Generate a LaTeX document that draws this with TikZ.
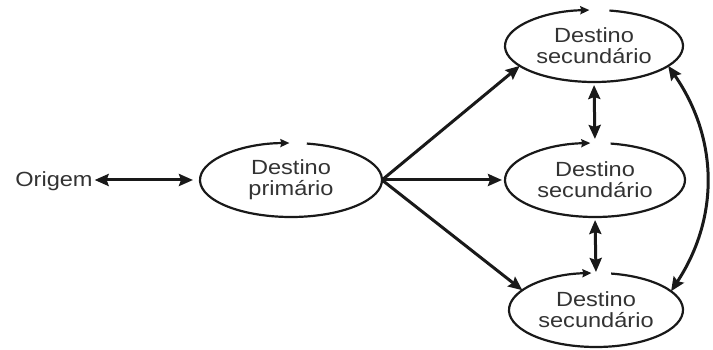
\documentclass[tikz,border=0pt]{standalone}
\usepackage{fontspec}
\setmainfont{Liberation Sans}[FakeStretch=1.15]
\usetikzlibrary{arrows.meta,shapes.geometric}
\begin{document}
\begin{tikzpicture}[x=1pt,y=1pt,
  txt/.style={text=black!80,font=\fontsize{20.5}{21}\selectfont,inner sep=0pt,outer sep=0pt},
  ell/.style={txt,ellipse,draw=none,align=center},
  conn/.style={line width=3pt,draw=black!90,-{Stealth[length=14pt,width=12pt,inset=2pt]}},
  dconn/.style={line width=3pt,draw=black!90,{Stealth[length=14pt,width=12pt,inset=2pt]}-{Stealth[length=14pt,width=12pt,inset=2pt]}},
  ring/.style={line width=2.2pt,draw=black!90,-{Stealth[length=9pt,width=8pt,inset=1pt]}}]
\useasboundingbox[fill=white] (0,0) rectangle (713,350);

\node[txt,anchor=base] (orig) at (54,163) {Origem};
\node[ell,minimum width=182pt,minimum height=74pt] (prim) at (291,170) {Destino\\primário};
\node[ell,minimum width=178pt,minimum height=72pt] (top) at (594,304) {Destino\\secundário};
\node[ell,minimum width=180pt,minimum height=74pt] (mid) at (595,170) {Destino\\secundário};
\node[ell,minimum width=174pt,minimum height=74pt] (bot) at (596,40) {Destino\\secundário};

% ellipse outlines with gap and small arrow
\draw[ring] ([shift={(80:91pt and 37pt)}]prim.center) arc[start angle=80,end angle=-269,x radius=91pt,y radius=37pt];
\draw[ring] ([shift={(80:89pt and 36pt)}]top.center) arc[start angle=80,end angle=-267,x radius=89pt,y radius=36pt];
\draw[ring] ([shift={(80:90pt and 37pt)}]mid.center) arc[start angle=80,end angle=-267,x radius=90pt,y radius=37pt];
\draw[ring] ([shift={(80:87pt and 37pt)}]bot.center) arc[start angle=80,end angle=-267,x radius=87pt,y radius=37pt];

% connectors
\draw[dconn,shorten <=2pt,shorten >=7pt] (orig.east |- prim.west) -- (prim.west);
\draw[conn] (prim.east) -- (top.195);
\draw[conn,shorten >=3pt] (prim.east) -- (mid.west);
\draw[conn] (prim.east) -- (bot.165);
\draw[dconn,shorten <=3pt,shorten >=4pt] (top.south) -- (mid.north);
\draw[dconn,shorten <=3pt,shorten >=1pt] (mid.south) -- (bot.north);
\draw[dconn] (top.-15) to[bend left=34] (bot.14);
\end{tikzpicture}
\end{document}
